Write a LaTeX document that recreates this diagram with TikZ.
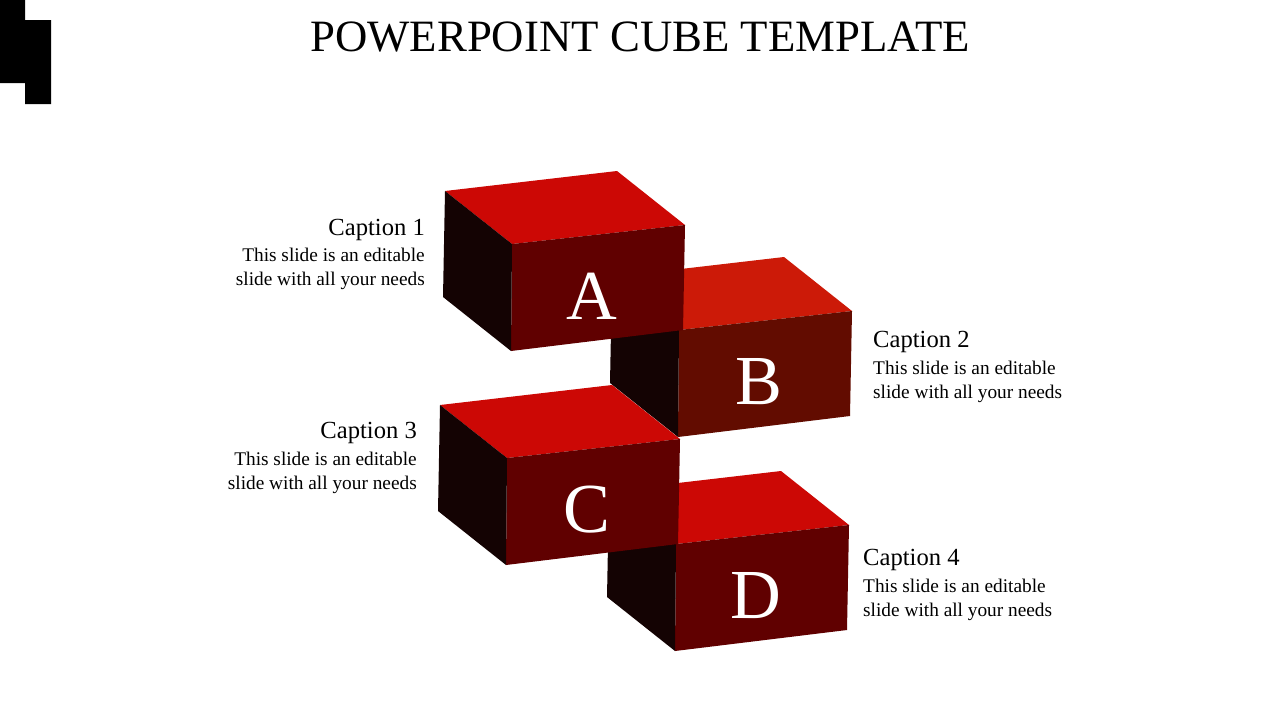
\documentclass[tikz,border=0pt]{standalone}
\usepackage{fontspec}
\setmainfont{Liberation Serif}
\begin{document}
\begin{tikzpicture}[x=0.02cm,y=-0.02cm]
\definecolor{topc}{HTML}{CC0805}
\definecolor{topb}{HTML}{CC1A08}
\definecolor{frontc}{HTML}{600000}
\definecolor{frontb}{HTML}{620C00}
\definecolor{leftc}{HTML}{140303}
\tikzset{lett/.style={text=white,font=\fontsize{40}{40}\selectfont},
captxt/.style={font=\fontsize{14}{16}\selectfont},
body/.style={font=\fontsize{11}{13.5}\selectfont}}
\useasboundingbox (0,0) rectangle (1280,720);
\fill (0,0) -- (25,0) -- (25,20) -- (51,20) -- (51,104) -- (25,104) -- (25,83) -- (0,83) -- cycle;
\node[font=\fontsize{25.5}{30}\selectfont] (title) at (640,37) {POWERPOINT CUBE TEMPLATE};
\newcommand{\cube}[5]{%
\begin{scope}[shift={(#1,#2)}]
\fill[#3] (445,191) -- (617,171) -- (685,225) -- (512,244) -- cycle;
\fill[#4] (512,244) -- (685,225) -- (683,330) -- (511,351) -- cycle;
\fill[leftc] (445,191) -- (512,244) -- (511,351) -- (443,297) -- cycle;
\node[lett] (#5) at (592,296) {#5};
\end{scope}}
\cube{167}{86}{topb}{frontb}{B}
\cube{0}{0}{topc}{frontc}{A}
\cube{164}{300}{topc}{frontc}{D}
\cube{-5}{214}{topc}{frontc}{C}
\node[captxt,anchor=east] (c1) at (431,230) {Caption 1};
\node[body,anchor=north east,align=right] (d1) at (431,242) {This slide is an editable\\slide with all your needs};
\node[captxt,anchor=west] (c2) at (867,342) {Caption 2};
\node[body,anchor=north west,align=left] (d2) at (867,355) {This slide is an editable\\slide with all your needs};
\node[captxt,anchor=east] (c3) at (423,433) {Caption 3};
\node[body,anchor=north east,align=right] (d3) at (423,446) {This slide is an editable\\slide with all your needs};
\node[captxt,anchor=west] (c4) at (857,560) {Caption 4};
\node[body,anchor=north west,align=left] (d4) at (857,573) {This slide is an editable\\slide with all your needs};
\end{tikzpicture}
\end{document}
